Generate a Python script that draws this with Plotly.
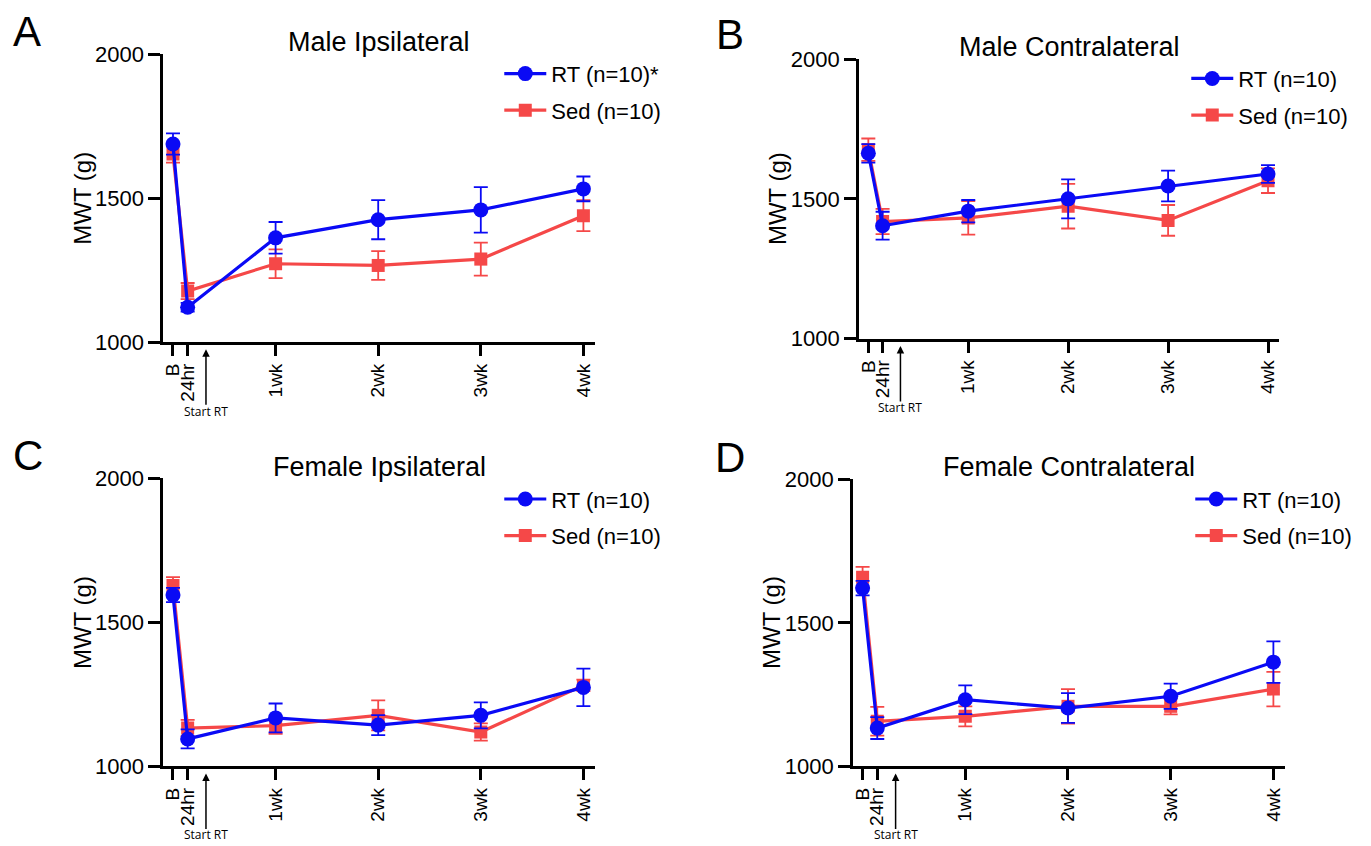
import plotly.graph_objects as go

W, H = 1371, 870

days = [0, 1, 7, 14, 21, 28]
tick_labels = ["B", "24hr", "1wk", "2wk", "3wk", "4wk"]

titles = ["Male Ipsilateral", "Male Contralateral", "Female Ipsilateral", "Female Contralateral"]
letters = ["A", "B", "C", "D"]
rt_names = ["RT (n=10)*", "RT (n=10)", "RT (n=10)", "RT (n=10)"]
sed_names = ["Sed (n=10)", "Sed (n=10)", "Sed (n=10)", "Sed (n=10)"]

rt_A = [1688, 1121, 1362, 1425, 1459, 1532]
rt_A_err = [37, 15, 55, 68, 79, 43]
sed_A = [1653, 1177, 1272, 1266, 1288, 1439]
sed_A_err = [30, 28, 50, 50, 57, 54]

rt_B = [1663, 1404, 1456, 1500, 1546, 1589]
rt_B_err = [33, 50, 40, 70, 55, 32]
sed_B = [1676, 1419, 1432, 1474, 1423, 1565]
sed_B_err = [40, 45, 60, 80, 55, 44]

rt_C = [1595, 1095, 1168, 1143, 1177, 1274]
rt_C_err = [25, 33, 50, 35, 45, 65]
sed_C = [1628, 1133, 1141, 1177, 1119, 1281]
sed_C_err = [29, 28, 28, 52, 30, 20]

rt_D = [1621, 1133, 1232, 1203, 1244, 1363]
rt_D_err = [25, 38, 50, 52, 44, 72]
sed_D = [1659, 1157, 1174, 1209, 1209, 1269]
sed_D_err = [36, 50, 35, 60, 28, 60]

rt_all = [rt_A, rt_B, rt_C, rt_D]
rt_err_all = [rt_A_err, rt_B_err, rt_C_err, rt_D_err]
sed_all = [sed_A, sed_B, sed_C, sed_D]
sed_err_all = [sed_A_err, sed_B_err, sed_C_err, sed_D_err]

start_rt_day = 2.25


def px(x):
    return x / W


def py(y):
    return 1 - y / H


# panel geometry in figure pixels: (left, right, top, bottom)
boxes = [
    (161.7, 594.0, 43.4, 339.8),
    (858.3, 1279.3, 48.5, 336.3),
    (161.7, 594.0, 480.2, 776.6),
    (852.3, 1285.0, 481.2, 776.6),
]
legend_pos = [(498, 42), (1186, 47), (498, 480), (1190, 480)]
letter_pos = [(25, 20), (729, 23), (26, 457), (729, 459)]
title_y = [31, 36, 468.5, 468.5]
start_text_y = [411, 407, 847, 847]

BLUE = "#0a0af5"
RED = "#f54848"
FONT = "Liberation Sans, Arial, sans-serif"

fig = go.Figure()
layout = dict(
    width=W, height=H, margin=dict(l=0, r=0, t=0, b=0),
    paper_bgcolor="white", plot_bgcolor="white",
    font=dict(family=FONT, color="black"),
    showlegend=True,
)
annotations = []

for i in range(4):
    xa = "x" if i == 0 else f"x{i+1}"
    ya = "y" if i == 0 else f"y{i+1}"
    lg = "legend" if i == 0 else f"legend{i+1}"
    l, r, t, b = boxes[i]

    fig.add_trace(go.Scatter(
        x=days, y=sed_all[i], name=sed_names[i], xaxis=xa, yaxis=ya, legend=lg,
        mode="lines+markers", legendgroup=f"sed{i}", legendrank=2,
        line=dict(color=RED, width=3.2),
        marker=dict(symbol="square", size=13, color=RED),
        error_y=dict(type="data", array=sed_err_all[i], color=RED, thickness=1.8, width=7),
    ))
    fig.add_trace(go.Scatter(
        x=days, y=rt_all[i], name=rt_names[i], xaxis=xa, yaxis=ya, legend=lg,
        mode="lines+markers", legendgroup=f"rt{i}", legendrank=1,
        line=dict(color=BLUE, width=3.2),
        marker=dict(symbol="circle", size=15, color=BLUE),
        error_y=dict(type="data", array=rt_err_all[i], color=BLUE, thickness=1.8, width=7),
    ))

    xkey = "xaxis" if i == 0 else f"xaxis{i+1}"
    ykey = "yaxis" if i == 0 else f"yaxis{i+1}"
    layout[xkey] = dict(
        domain=[px(l), px(r)], anchor=ya, range=[-0.65, 28.8],
        tickvals=days, ticktext=tick_labels, tickangle=-90,
        showline=True, linecolor="black", linewidth=3,
        ticks="outside", ticklen=11, tickwidth=2.5, tickcolor="black",
        showgrid=False, zeroline=False,
        tickfont=dict(size=19, family=FONT, color="black"),
    )
    layout[ykey] = dict(
        domain=[py(b), py(t)], anchor=xa, range=[1000, 2000],
        tickvals=[1000, 1500, 2000],
        showline=True, linecolor="black", linewidth=3,
        ticks="outside", ticklen=12, tickwidth=2.5, tickcolor="black",
        showgrid=False, zeroline=False,
        tickfont=dict(size=22, family=FONT, color="black"),
    )
    lx, ly = legend_pos[i]
    layout[lg] = dict(
        x=px(lx), y=py(ly), xanchor="left", yanchor="top",
        xref="paper", yref="paper",
        font=dict(size=22, family=FONT, color="black"),
        bgcolor="rgba(0,0,0,0)", traceorder="grouped", tracegroupgap=5,
        itemwidth=42,
    )

    # panel title
    annotations.append(dict(
        text=titles[i], x=px((l + r) / 2), y=py(title_y[i]), xref="paper", yref="paper",
        xanchor="center", yanchor="middle", showarrow=False,
        font=dict(size=27, family=FONT, color="black"),
    ))
    # y axis title
    annotations.append(dict(
        text="MWT (g)", x=px(l - 81), y=py((t + b) / 2), xref="paper", yref="paper",
        xanchor="center", yanchor="middle", showarrow=False, textangle=-90,
        font=dict(size=24, family=FONT, color="black"),
    ))
    # panel letter
    lx2, ly2 = letter_pos[i]
    annotations.append(dict(
        text=letters[i], x=px(lx2), y=py(ly2), xref="paper", yref="paper",
        xanchor="center", yanchor="middle", showarrow=False,
        font=dict(size=42, family=FONT, color="black"),
    ))
    # Start RT arrow
    annotations.append(dict(
        text="", x=start_rt_day, y=py(b + 7.5), xref=xa, yref="paper",
        ax=0, ay=57, axref="pixel", ayref="pixel",
        showarrow=True, arrowhead=2, arrowsize=1, arrowwidth=1.5, arrowcolor="black",
    ))
    annotations.append(dict(
        text="Start RT", x=start_rt_day, y=py(start_text_y[i]), xref=xa, yref="paper",
        xanchor="center", yanchor="middle", showarrow=False,
        font=dict(size=12, family="Open Sans, sans-serif", color="black"),
    ))

layout["annotations"] = annotations
fig.update_layout(**layout)
fig.write_html(
    "out.html",
    config={"displayModeBar": False},
    post_script="document.body.style.margin='0';document.documentElement.style.margin='0';",
)
